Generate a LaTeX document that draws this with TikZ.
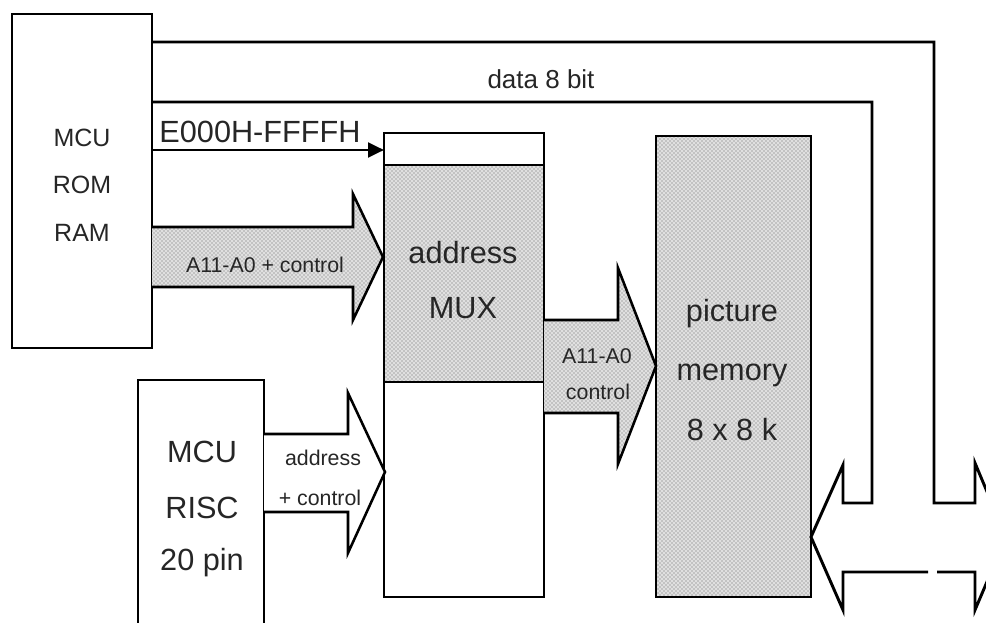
\documentclass[tikz,border=0pt]{standalone}
\usepackage{fontspec}
\setmainfont{Liberation Sans}
\usetikzlibrary{patterns,arrows.meta}
\begin{document}
\begin{tikzpicture}[x=0.75pt,y=-0.75pt,
  box/.style={draw, line width=2.2pt, inner sep=0pt, outer sep=0pt},
  shaded/.style={preaction={fill=black!12}, pattern=crosshatch dots, pattern color=black!60},
  fat/.style={draw, line width=1.9pt, line join=miter},
  wire/.style={draw, line width=2.2pt, line join=miter},
  big/.style={inner sep=0pt, text=black!85, font=\fontsize{23}{27}\selectfont},
  mid/.style={inner sep=0pt, text=black!85, font=\fontsize{18.75}{22}\selectfont},
  small/.style={inner sep=0pt, text=black!85, font=\fontsize{16}{19}\selectfont}]
\useasboundingbox (0,0) rectangle (986,623);
\clip (0,0) rectangle (986,623);

% boxes
\node[box, minimum width=105pt, minimum height=250.5pt] (mcu) at (82,181) {};
\node[box, minimum width=120pt, minimum height=24pt] (muxtop) at (464,149) {};
\node[box, shaded, minimum width=120pt, minimum height=162.75pt] (muxmid) at (464,273.5) {};
\node[box, minimum width=120pt, minimum height=161.25pt] (muxbot) at (464,489.5) {};
\node[box, shaded, minimum width=116.25pt, minimum height=345.75pt] (mem) at (733.5,366.5) {};
\node[box, minimum width=94.5pt, minimum height=202.5pt] (risc) at (201,515) {};

% box texts
\node[mid] (t1) at (82,138) {MCU};
\node[mid] (t2) at (82,185) {ROM};
\node[mid] (t3) at (82,233) {RAM};
\node[big] (t4) at (463,253) {address};
\node[big] (t5) at (463,308) {MUX};
\node[big] (t6) at (732,314) {picture};
\node[big] (t7) at (732,375) {memory};
\node[big] (t8) at (732,430) {8 x 8 k};
\node[big] (t9) at (202,452) {MCU};
\node[big] (t10) at (202,508) {RISC};
\node[big] (t11) at (202,563) {20 pin};

% fat arrows
\path[fat, shaded] (mcu.east |- 0,227) -- (353,227) -- (353,194) -- (383,257) -- (353,320) -- (353,287) -- (mcu.east |- 0,287);
\node[small] (l1) at (265,265) {A11-A0 + control};

\path[fat, shaded] (muxmid.east |- 0,320) -- (618,320) -- (618,268) -- (656,366) -- (618,464) -- (618,413) -- (muxmid.east |- 0,413);
\node[small] (l2) at (597,356) {A11-A0};
\node[small] (l3) at (598,392) {control};

\path[fat, fill=white] (risc.east |- 0,434) -- (348,434) -- (348,393) -- (385,472) -- (348,553) -- (348,512) -- (risc.east |- 0,512);
\node[small] (l4) at (323,458) {address};
\node[small] (l5) at (320,498) {+ control};

% address arrow
\draw[wire, -{Triangle[length=12pt,width=11pt]}] (mcu.east |- 0,150) -- (muxtop.west |- 0,150);
\node[inner sep=0pt, text=black!85, font=\fontsize{23}{27}\selectfont] (l6) at (260,132) {E000H-FFFFH};

% data bus
\path[wire] (mcu.east |- 0,42) -- (934,42) -- (934,503) -- (975,503) -- (975,463) -- (1006,537) -- (975,610) -- (975,572) -- (937,572);
\path[wire] (928,572) -- (843,572) -- (843,610) -- (mem.east |- 0,537) -- (843,465) -- (843,503) -- (872,503) -- (872,102) -- (mcu.east |- 0,102);
\node[inner sep=0pt, text=black!85, font=\fontsize{19.5}{23}\selectfont] (l7) at (541,79) {data 8 bit};
\end{tikzpicture}
\end{document}
